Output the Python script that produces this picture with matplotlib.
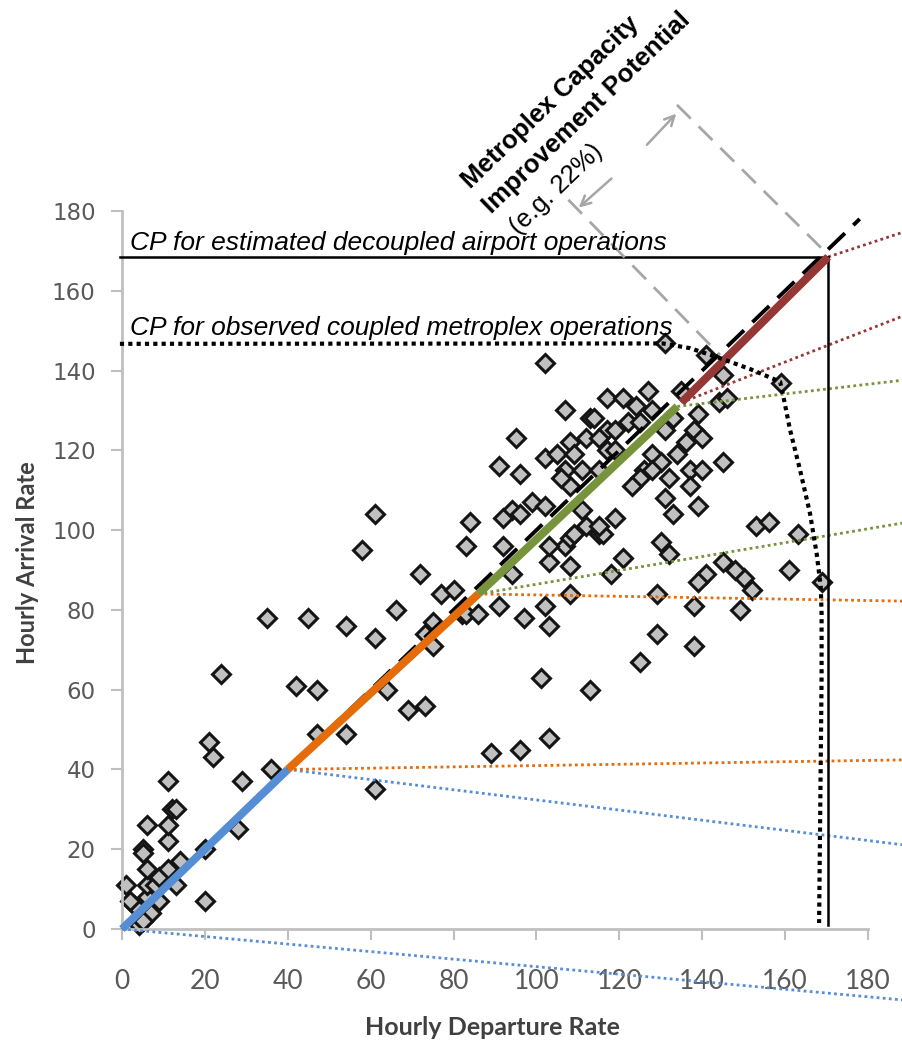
import matplotlib
matplotlib.use("Agg")
import matplotlib.pyplot as plt

# observed hourly rates (departures, arrivals)
dep_rate = [1, 3, 4, 7, 6, 9, 6, 8, 13, 9, 6, 11, 14, 5, 5, 20, 11, 11, 6, 28, 12, 13, 11, 29,
            36, 21, 22, 20, 24, 2, 5,
            61, 84, 58, 83, 72, 77, 80, 66, 35, 45, 54, 61, 75, 73, 75, 82, 83, 86, 42, 47, 64,
            69, 73, 47, 54, 61, 89, 96, 103, 113, 101, 125, 138, 129, 103, 97, 91, 102, 138,
            149, 108, 129, 152, 150, 148, 145, 141, 139, 161, 169, 118, 94, 108, 103, 121, 132,
            130, 107, 92, 103, 153, 156, 163,
            102, 131, 141, 145, 159, 117, 121, 127, 124, 128, 135, 139, 144, 146, 107, 113, 117,
            95, 112, 108, 102, 105, 109, 91, 96, 107, 111, 115, 108, 106, 99, 102, 94, 96, 92,
            111, 108, 109, 112, 115, 116, 119, 114, 119, 122, 125, 133, 138, 140, 131, 136, 115,
            117, 119, 128, 134, 137, 140, 145, 130, 126, 128, 125, 132, 123, 137, 131, 133, 139,
            115]
arr_rate = [11, 6, 1, 4, 8, 7, 11, 11, 11, 13, 15, 15, 17, 20, 19, 20, 22, 26, 26, 25, 30, 30, 37,
            37, 40, 47, 43, 7, 64, 7, 2,
            104, 102, 95, 96, 89, 84, 85, 80, 78, 78, 76, 73, 77, 74, 71, 79, 79, 79, 61, 60, 60,
            55, 56, 49, 49, 35, 44, 45, 48, 60, 63, 67, 71, 74, 76, 78, 81, 81, 81,
            80, 84, 84, 85, 88, 90, 92, 89, 87, 90, 87, 89, 89, 91, 92, 93, 94,
            97, 96, 96, 96, 101, 102, 99,
            142, 147, 144, 139, 137, 133, 133, 135, 131, 130, 135, 129, 132, 133, 130, 128, 125,
            123, 123, 122, 118, 119, 119, 116, 114, 115, 115, 115, 111, 113, 107, 106, 105, 104, 103,
            105, 98, 99, 101, 99, 99, 103, 128, 125, 127, 127, 128, 125, 123, 125, 122, 123,
            120, 120, 119, 119, 115, 115, 117, 117, 115, 115, 113, 113, 111, 111, 108, 104, 106,
            101]

# piecewise capacity envelope
seg_x = [(0, 40), (40, 86), (86, 134), (135, 170.4)]
seg_y = [(0, 40), (40, 84), (84, 131), (132, 168.5)]
seg_colors = ["#558ed5", "#e46c0a", "#77933c", "#953735"]

# dotted extensions: start point and end at the right edge
edge_x = 188.5
ext_start = [(0, 0), (40, 40), (40, 40), (86, 84), (86, 84), (134, 131), (135, 132), (170.4, 168.5)]
ext_end_y = [-17.8, 21.1, 42.4, 82.2, 101.8, 137.6, 153.7, 174.7]
ext_colors = ["#558ed5", "#558ed5", "#e46c0a", "#e46c0a", "#77933c", "#77933c", "#953735", "#953735"]

# coupled metroplex capacity curve
coupled_x = [-0.5, 130.5, 137.1, 144.3, 151.5, 158.8, 159.6, 161.2, 163.6, 166.0, 167.6, 168.6,
             168.8, 168.8, 168.2]
coupled_y = [146.7, 146.8, 145.6, 143.1, 140.4, 137.2, 133.4, 125.1, 115.1, 104.2, 94.2, 85.8,
             79.1, 63.2, 1.5]

decoupled_cp = (170.4, 168.5)
ticks = list(range(0, 181, 20))

fig = plt.figure(figsize=(9.03, 10.45), dpi=100)
ax = fig.add_axes([122 / 903, 116 / 1045, 746 / 903, 718 / 1045])
ax.set_xlim(0, 180)
ax.set_ylim(0, 180)

for s in ["top", "right"]:
    ax.spines[s].set_visible(False)
for s in ["left", "bottom"]:
    ax.spines[s].set_color("#c0c0c0")
    ax.spines[s].set_linewidth(2)

ax.set_xticks(ticks)
ax.set_yticks(ticks)
ax.tick_params(axis="both", colors="#bfbfbf", width=1.5, length=8, direction="out")
ax.tick_params(axis="y", labelcolor="#595959", labelsize=16.5, pad=11)
ax.tick_params(axis="x", labelcolor="#595959", labelsize=19, pad=21)
for lab in ax.get_xticklabels():
    lab.set_family("Lato")
for lab in ax.get_yticklabels():
    lab.set_family("DejaVu Sans")

ax.set_xlabel("Hourly Departure Rate", fontsize=18, fontweight="bold", color="#404040",
              family="Lato")
ax.xaxis.set_label_coords(0.496, -0.1365)
ax.xaxis.label.set_va("center")
ax.set_ylabel("Hourly Arrival Rate", fontsize=17, fontweight="bold", color="#404040",
              family="Lato")
ax.yaxis.set_label_coords(-0.127, 0.51)
ax.yaxis.label.set_va("center")

# scatter
ax.plot(dep_rate, arr_rate, linestyle="none", marker="D", ms=9.3, mfc="#c0c0c0",
        mec="#141414", mew=2.2, clip_on=False, zorder=2)

# y = x reference
ax.plot([0, 178], [0, 178], color="black", lw=2.8, dashes=(6, 3), clip_on=False, zorder=3)

for (x0, y0), ye, c in zip(ext_start, ext_end_y, ext_colors):
    ax.plot([x0, edge_x], [y0, ye], color=c, lw=2, linestyle=(0, (1, 1.2)),
            clip_on=False, zorder=3)

for xs, ys, c in zip(seg_x, seg_y, seg_colors):
    ax.plot(xs, ys, color=c, lw=5.8, solid_capstyle="butt", clip_on=False, zorder=4)

# decoupled CP
ax.plot([-0.5, decoupled_cp[0]], [decoupled_cp[1], decoupled_cp[1]], color="black", lw=1.8,
        clip_on=False, zorder=3)
ax.plot([decoupled_cp[0], decoupled_cp[0]], [decoupled_cp[1], 1], color="black", lw=1.8,
        clip_on=False, zorder=3)

# coupled CP
ax.plot(coupled_x, coupled_y, color="black", lw=3, linestyle=(0, (1, 1)), clip_on=False,
        zorder=5)

# gray projection lines and arrows
ax.plot([133.9, 170.4], [206.6, 169.0], color="#a6a6a6", lw=2, dashes=(7, 4),
        clip_on=False, zorder=3)
ax.plot([107.7, 144.3], [182.8, 143.9], color="#a6a6a6", lw=2, dashes=(7, 4),
        clip_on=False, zorder=3)
ax.annotate("", xy=(134.2, 204.9), xytext=(126.2, 196.1), annotation_clip=False,
            arrowprops=dict(arrowstyle="->,head_length=0.7,head_width=0.35", color="#a6a6a6",
                            lw=1.8))
ax.annotate("", xy=(109.7, 180.4), xytext=(118.6, 188.6), annotation_clip=False,
            arrowprops=dict(arrowstyle="->,head_length=0.7,head_width=0.35", color="#a6a6a6",
                            lw=1.8))

ann_font = "Liberation Sans"
ax.text(1.9, 170.2, "CP for estimated decoupled airport operations", fontsize=19,
        style="italic", family=ann_font, va="baseline", ha="left", zorder=6)
ax.text(1.9, 148.9, "CP for observed coupled metroplex operations", fontsize=19,
        style="italic", family=ann_font, va="baseline", ha="left", zorder=6)

ax.text(103.5, 207.3, "Metroplex Capacity", fontsize=18.5, fontweight="bold", family=ann_font,
        rotation=44, rotation_mode="anchor", ha="center", va="center")
ax.text(112.0, 204.6, "Improvement Potential", fontsize=18.5, fontweight="bold", family=ann_font,
        rotation=44, rotation_mode="anchor", ha="center", va="center")
ax.text(104.7, 185.5, "(e.g. 22%)", fontsize=18.5, family=ann_font,
        rotation=44, rotation_mode="anchor", ha="center", va="center")

fig.savefig("out.png", dpi=100)
